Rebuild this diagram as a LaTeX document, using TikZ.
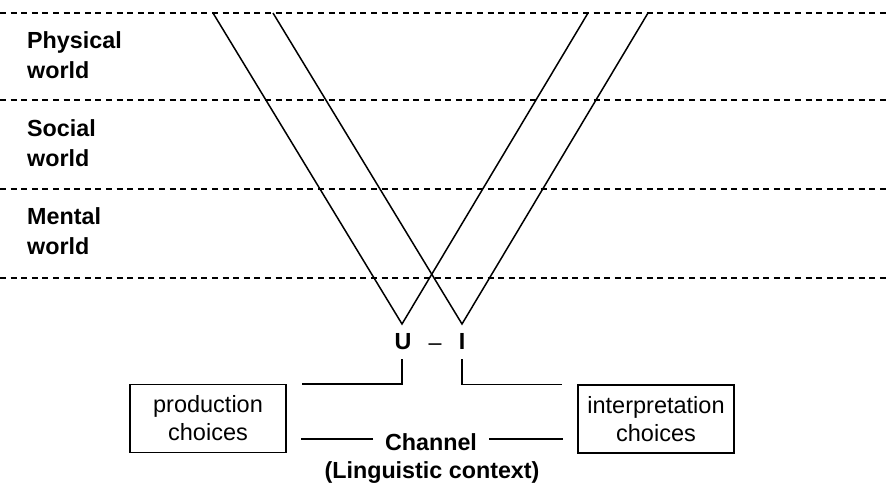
\documentclass[tikz,border=0pt]{standalone}
\usepackage{fontspec}
\setmainfont{Liberation Sans}
\tikzset{
  sep/.style={line width=2.5pt, dash pattern=on 6pt off 4.6pt},
  thin/.style={line width=1.5pt},
  world/.style={font=\fontsize{23.3}{30}\selectfont\bfseries, anchor=base west, inner sep=0pt, align=left},
  letter/.style={font=\fontsize{23.3}{28}\selectfont\bfseries, anchor=base, inner sep=0pt},
  choicebox/.style={draw, line width=1.5pt, minimum width=156pt, minimum height=68pt, inner sep=0pt, align=center, font=\fontsize{23.5}{28}\selectfont},
  chan/.style={font=\fontsize{23.3}{28}\selectfont\bfseries, anchor=base, inner sep=0pt}
}
\begin{document}
\begin{tikzpicture}[x=1pt,y=-1pt]
\useasboundingbox (0,0) rectangle (888,487);
% separators
\foreach \yy in {13,100,189,278} \draw[sep] (0,\yy) -- (888,\yy);
% world labels (base anchor = baseline of last line)
\node[world] (phys) at (27,78) {Physical\\world};
\node[world] (soc) at (27,166) {Social\\world};
\node[world] (ment) at (27,254) {Mental\\world};
% V shapes
\coordinate (la) at (213,13);
\coordinate (lv) at (402,324);
\coordinate (lb) at (588,13);
\coordinate (ra) at (273,13);
\coordinate (rv) at (462,324);
\coordinate (rb) at (648,13);
\draw[thin, line join=miter] (la) -- (lv) -- (lb);
\draw[thin, line join=miter] (ra) -- (rv) -- (rb);
% U - I
\node[letter] (U) at (403,349) {U};
\node[letter] (I) at (462,349) {I};
\node[font=\fontsize{23.3}{28}\selectfont, inner sep=0pt, anchor=base] (dash) at (435,350) {--};
% boxes
\node[choicebox] (prod) at (208,418.5) {production\\choices};
\node[choicebox] (interp) at (656,419) {interpretation\\choices};
% channel
\node[chan] (channel) at (431,450) {Channel};
\node[chan] (ling) at (432,478) {(Linguistic context)};
% connectors
\coordinate (pu) at ([xshift=15pt]prod.north east);
\coordinate (iu) at ([xshift=-15pt]interp.north west);
\draw[thin] ([yshift=-10pt]U.south -| lv) |- (pu);
\draw[thin] ([yshift=-10pt]I.south -| rv) |- (iu);
\coordinate (pl) at (301,439);
\coordinate (cl) at (373,439);
\coordinate (cr) at (489,439);
\coordinate (pr) at (563,439);
\draw[thin] (cl) -- (pl);
\draw[thin] (cr) -- (pr);
\end{tikzpicture}
\end{document}
